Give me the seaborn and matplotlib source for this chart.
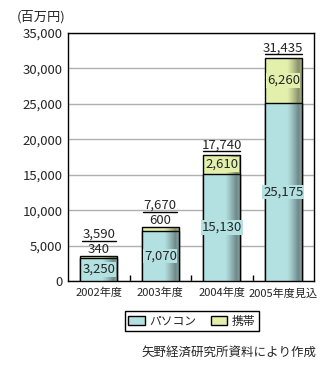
import matplotlib
matplotlib.use("Agg")
import matplotlib.pyplot as plt
import matplotlib.transforms as mtransforms
import seaborn as sns
import numpy as np
import pandas as pd
from matplotlib.patches import Patch

categories = ["2002年度", "2003年度", "2004年度", "2005年度見込"]
pc_values = [3250, 7070, 15130, 25175]
mobile_values = [340, 600, 2610, 6260]
totals = [3590, 7670, 17740, 31435]
series_names = ["パソコン", "携帯"]
y_ticks = [0, 5000, 10000, 15000, 20000, 25000, 30000, 35000]

PC_COLOR = "#b3e1e1"
MOB_COLOR = "#e3f0ab"

sns.set_theme(style="white")
plt.rcParams["font.family"] = ["Noto Sans CJK JP", "DejaVu Sans"]

df = pd.DataFrame({"cat": categories, "pc": pc_values, "mob": mobile_values, "total": totals})

fig = plt.figure(figsize=(3.35, 3.7), dpi=100)
ax = fig.add_axes([68/335, 1-281/370, (314-68)/335, (281-33)/370])

ax.set_ylim(0, 35000)
ax.set_yticks(y_ticks)
ax.yaxis.grid(True, color="#b0b0b0", linewidth=1)
ax.set_axisbelow(True)

sns.barplot(data=df, x="cat", y="total", color=MOB_COLOR, saturation=1, width=0.6,
            edgecolor="black", linewidth=1, ax=ax, zorder=2)
sns.barplot(data=df, x="cat", y="pc", color=PC_COLOR, saturation=1, width=0.6,
            edgecolor="black", linewidth=1, ax=ax, zorder=3)

# gradient shading on right side of bars
grad = np.linspace(0, 1, 100)
alpha = np.clip((grad - 0.6) / 0.35, 0, 1) ** 1.2 * 0.55
alpha[grad > 0.93] *= 0.7
for p in list(ax.patches):
    x0, y0 = p.get_x(), p.get_y()
    w, h = p.get_width(), p.get_height()
    rgba = np.zeros((1, 100, 4))
    rgba[..., :3] = 0.15
    rgba[0, :, 3] = alpha
    im = ax.imshow(rgba, extent=[x0, x0 + w, y0, y0 + h], aspect="auto",
                   zorder=p.get_zorder() + 0.1, interpolation="bilinear")
    im.set_clip_path(p)
ax.set_xlim(-0.5, len(categories) - 0.5)
ax.set_ylim(0, 35000)

fs_num = 9.5
fs_txt = 8


def up(px):
    return ax.transData + mtransforms.ScaledTranslation(0, px / 100, fig.dpi_scale_trans)


for i, (pc, mob, tot) in enumerate(zip(pc_values, mobile_values, totals)):
    ax.text(i, pc / 2, f"{pc:,}", ha="center", va="center", fontsize=fs_num, zorder=6,
            bbox=dict(boxstyle="square,pad=0.05", fc=PC_COLOR, ec="none"))
    if mob >= 2000:
        ax.text(i, pc + mob / 2, f"{mob:,}", ha="center", va="center", fontsize=fs_num, zorder=6,
                bbox=dict(boxstyle="square,pad=0.05", fc=MOB_COLOR, ec="none"))
        ax.text(i, tot, f"{tot:,}", ha="center", va="bottom", fontsize=fs_num, zorder=6,
                transform=up(4))
        ax.plot([i - 0.3, i + 0.3], [tot, tot], color="black", lw=1,
                transform=up(4), zorder=6, clip_on=False)
    else:
        ax.text(i, tot, f"{mob:,}", ha="center", va="bottom", fontsize=fs_num, zorder=6,
                transform=up(0))
        ax.plot([i - 0.28, i + 0.28], [tot, tot], color="black", lw=1,
                transform=up(15), zorder=6, clip_on=False)
        ax.text(i, tot, f"{tot:,}", ha="center", va="bottom", fontsize=fs_num, zorder=6,
                transform=up(15))

ax.set_xlabel("")
ax.set_ylabel("")
ax.set_yticklabels([f"{v:,}" for v in y_ticks], fontsize=fs_num)
ax.set_xticks(range(len(categories)))
ax.set_xticklabels(categories, fontsize=fs_txt)
ax.tick_params(axis="x", length=0, pad=5)
ax.tick_params(axis="y", length=0, pad=4)
ax.set_xticks([0.5, 1.5, 2.5], minor=True)
ax.tick_params(axis="x", which="minor", direction="in", length=4, color="black", width=1, bottom=True)
for s in ax.spines.values():
    s.set_color("black")
    s.set_linewidth(1)
    s.set_visible(True)

fig.text(17/335, 1-17/370, "(百万円)", fontsize=9.5, ha="left", va="center")

handles = [Patch(facecolor=PC_COLOR, edgecolor="black", lw=1),
           Patch(facecolor=MOB_COLOR, edgecolor="black", lw=1)]
leg = fig.legend(handles, series_names, loc="center", bbox_to_anchor=(192/335, 1-321/370),
                 ncol=2, fontsize=8.5, frameon=True, fancybox=False, edgecolor="black",
                 handlelength=1.4, handleheight=0.9, handletextpad=0.4, columnspacing=1.2,
                 borderpad=0.3, framealpha=1)
leg.get_frame().set_linewidth(1)

fig.text(316/335, 1-352/370, "矢野経済研究所資料により作成", fontsize=9, ha="right", va="center")

fig.savefig("out.png", dpi=100, facecolor="white")
